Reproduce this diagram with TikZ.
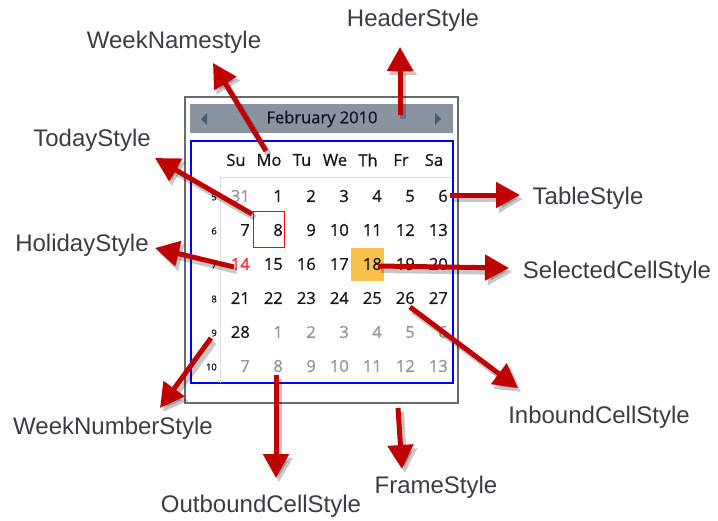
\documentclass[tikz,border=0pt]{standalone}
\usepackage{fontspec}
\setmainfont{Liberation Sans}
\newfontfamily\calfont[FakeBold=0.7]{Open Sans}
\usetikzlibrary{arrows.meta}
\definecolor{arrowred}{RGB}{192,0,0}
\definecolor{labelgray}{RGB}{60,60,72}
\definecolor{headergray}{RGB}{138,148,160}
\definecolor{navblue}{RGB}{77,92,117}
\definecolor{framegray}{RGB}{105,105,110}
\definecolor{gridgray}{RGB}{222,222,226}
\definecolor{outgray}{RGB}{150,150,150}
\definecolor{holired}{RGB}{255,40,60}
\definecolor{selorange}{RGB}{250,193,74}
\definecolor{daytext}{RGB}{20,20,30}
\tikzset{
  lbl/.style={inner sep=0pt, text=labelgray, font=\fontsize{24}{28}\selectfont},
  dname/.style={inner sep=0pt, text=daytext, font=\calfont\fontsize{16.5}{18}\selectfont},
  dnum/.style={inner sep=0pt, anchor=east, text=daytext, font=\calfont\fontsize{16.5}{18}\selectfont},
  outnum/.style={dnum, text=outgray},
  holinum/.style={dnum, text=holired},
  wnum/.style={inner sep=0pt, anchor=east, text=daytext, font=\calfont\fontsize{9.5}{11}\selectfont},
  redarrow/.style={draw=arrowred, line width=5pt, -{Triangle[length=24pt,width=25pt]}},
  arrowshadow/.style={draw=black, opacity=0.22, line width=6pt, -{Triangle[length=24pt,width=26pt]}},
}
\newcommand{\callout}[2]{%
  \draw[arrowshadow] ([shift={(3,4)}]#1) -- ([shift={(3,4)}]#2);
  \draw[redarrow] (#1) -- (#2);}
\begin{document}
\begin{tikzpicture}[x=1pt,y=-1pt]
\useasboundingbox (0,0) rectangle (718,520);
% frame
\draw[framegray, line width=1.8pt, fill=white] (185,97) rectangle (458,403);
% header
\fill[headergray] (190,104) rectangle (453,133);
\node[inner sep=0pt, text=daytext, font=\calfont\fontsize{16.5}{18}\selectfont] (month) at (322,119) {February 2010};
\fill[navblue] (201,119) -- (207,113) -- (207,125) -- cycle;
\fill[navblue] (441,119) -- (435,113) -- (435,125) -- cycle;
% table frame
\draw[blue, line width=1.3pt] (191,141) rectangle (453,383);
\draw[gridgray, line width=1pt] (220,383) -- (220,177) -- (452,177);
% day names
\foreach \n [count=\i from 0] in {Su,Mo,Tu,We,Th,Fr,Sa}
  \node[dname] (dn-\i) at (236+33*\i,160) {\n};
% special cells
\fill[selorange] (351,248) rectangle (384,281);
\draw[red, line width=1pt] (253,211) rectangle (284,247);
% week numbers
\foreach \w [count=\r from 0] in {5,6,7,8,9,10}
  \node[wnum] (wk-\w) at (217,197+34*\r) {\w};
% dates row 1
\node[outnum] (a0) at (250,196) {31};
\foreach \d [count=\i from 1] in {1,2,3,4,5,6}
  \node[dnum] (a\i) at (250+33*\i,196) {\d};
% row 2
\foreach \d [count=\i from 0] in {7,8,9,10,11,12,13}
  \node[dnum] (b\i) at (250+33*\i,230) {\d};
% row 3
\node[holinum] (c0) at (250,264) {14};
\foreach \d [count=\i from 1] in {15,16,17,18,19,20}
  \node[dnum] (c\i) at (250+33*\i,264) {\d};
% row 4
\foreach \d [count=\i from 0] in {21,22,23,24,25,26,27}
  \node[dnum] (d\i) at (250+33*\i,298) {\d};
% row 5
\node[dnum] (e0) at (250,332) {28};
\foreach \d [count=\i from 1] in {1,2,3,4,5,6}
  \node[outnum] (e\i) at (250+33*\i,332) {\d};
% row 6
\foreach \d [count=\i from 0] in {7,8,9,10,11,12,13}
  \node[outnum] (f\i) at (250+33*\i,366) {\d};
% labels
\node[lbl] (lHeader) at (413,20) {HeaderStyle};
\node[lbl] (lWeekName) at (174,42) {WeekNamestyle};
\node[lbl] (lToday) at (92,140) {TodayStyle};
\node[lbl] (lHoliday) at (82,245) {HolidayStyle};
\node[lbl] (lTable) at (588,198) {TableStyle};
\node[lbl] (lSelected) at (617,272) {SelectedCellStyle};
\node[lbl] (lInbound) at (599,417) {InboundCellStyle};
\node[lbl] (lWeekNum) at (113,428) {WeekNumberStyle};
\node[lbl] (lFrame) at (436,487) {FrameStyle};
\node[lbl] (lOutbound) at (261,506) {OutboundCellStyle};
% arrow end points
\coordinate (sH) at (400,115);  \coordinate (tH) at (400,47);
\coordinate (sWN) at (266,151); \coordinate (tWN) at (213,63);
\coordinate (sT) at (252,214);  \coordinate (tT) at (155,158);
\coordinate (sHo) at (234,267); \coordinate (tHo) at (155,248);
\coordinate (sTb) at (450,195); \coordinate (tTb) at (520,195);
\coordinate (sS) at (378,266);  \coordinate (tS) at (509,268);
\coordinate (sI) at (410,307);  \coordinate (tI) at (518,388);
\coordinate (sF) at (398,408);  \coordinate (tF) at (402,469);
\coordinate (sO) at (276,375);  \coordinate (tO) at (276,478);
\coordinate (sW) at (211,338);  \coordinate (tW) at (160,408);
\callout{sH}{tH}
\callout{sWN}{tWN}
\callout{sT}{tT}
\callout{sHo}{tHo}
\callout{sTb}{tTb}
\callout{sS}{tS}
\callout{sI}{tI}
\callout{sF}{tF}
\callout{sO}{tO}
\callout{sW}{tW}
\end{tikzpicture}
\end{document}
